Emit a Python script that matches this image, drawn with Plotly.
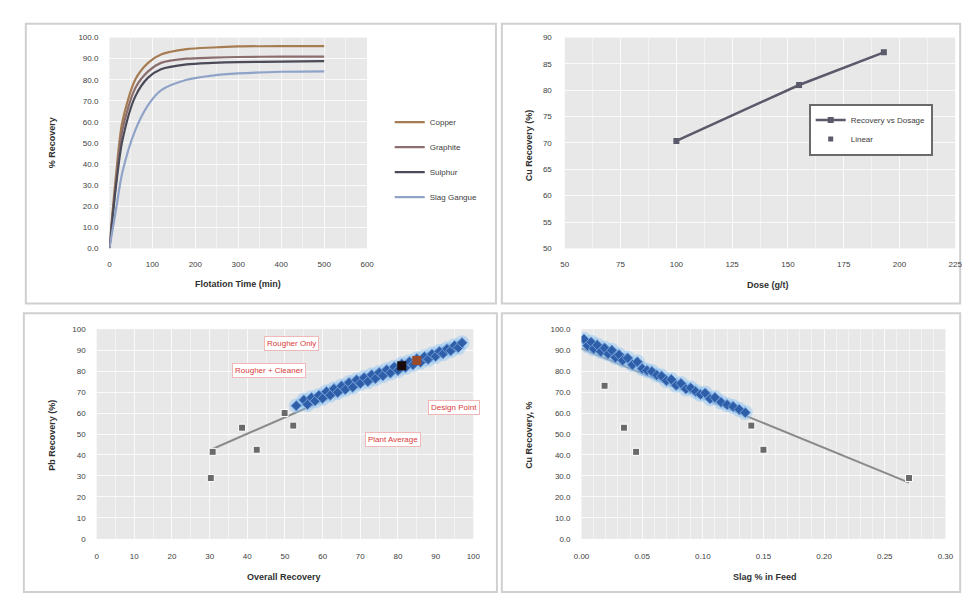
import numpy as np
import plotly.graph_objects as go

# ---------------- Panel 1 : recovery vs flotation time ----------------
time_min = [0, 15, 30, 60, 90, 120, 180, 240, 300, 400, 500]
rec_copper = [0, 34, 60, 80, 88, 92, 94.5, 95.3, 95.8, 96, 96]
rec_graphite = [0, 31, 56, 76, 84, 88, 90, 90.5, 90.8, 91, 91]
rec_sulphur = [0, 29, 51, 72, 81, 85, 87.3, 88, 88.4, 88.6, 88.8]
rec_slag = [0, 18, 36, 56, 68, 75, 80, 82, 83, 83.8, 84]
p1_names = ["Copper", "Graphite", "Sulphur", "Slag Gangue"]

# ---------------- Panel 2 : recovery vs dose ----------------
dose = [100, 155, 193]
dose_rec = [70.4, 81.0, 87.2]

# ---------------- Panel 3 : recovery vs overall recovery ----------------
ov_low_x = [30.8, 30.3, 38.6, 42.5, 49.9, 52.2]
ov_low_y = [41.5, 29.0, 53.0, 42.5, 60.0, 54.0]
ov_x = [53, 55, 56, 57, 58, 59, 60, 61, 62, 63, 64, 65, 66, 67, 68, 69, 70, 71,
        72, 73, 74, 75, 76, 77, 78, 79, 80, 81, 82, 83, 84, 85, 86, 87, 88, 89,
        90, 91, 92, 93, 94, 95, 96, 97]
ov_y = [63.5, 66.2, 64.1, 67.3, 65.8, 68.4, 67.0, 70.2, 68.5, 71.6, 69.8, 72.9,
        71.2, 74.5, 72.3, 75.8, 74.1, 76.9, 75.0, 78.2, 76.4, 79.3, 77.8, 80.6,
        79.1, 82.0, 80.3, 83.4, 81.7, 84.5, 83.0, 85.9, 84.2, 86.8, 85.6, 88.1,
        87.0, 89.4, 88.3, 90.6, 89.7, 92.1, 91.2, 93.5]
ov_sel_x = [81, 85]
ov_sel_y = [82.5, 85.0]
ov_sel_col = ["#1a0a0a", "#9a4a2a"]
p3_notes = ["Rougher Only", "Rougher + Cleaner", "Design Point", "Plant Average"]
p3_note_x = [51.7, 45.7, 94.8, 78.6]
p3_note_y = [93.0, 80.2, 62.7, 47.2]

# ---------------- Panel 4 : recovery vs slag % ----------------
slag_low_x = [0.019, 0.035, 0.045, 0.140, 0.150, 0.270]
slag_low_y = [73.0, 53.0, 41.5, 54.0, 42.5, 29.0]
slag_x = [0.002, 0.005, 0.008, 0.010, 0.013, 0.016, 0.019, 0.022, 0.025, 0.028,
          0.031, 0.034, 0.038, 0.042, 0.046, 0.050, 0.054, 0.058, 0.062, 0.066,
          0.070, 0.074, 0.078, 0.082, 0.086, 0.090, 0.094, 0.098, 0.102, 0.106,
          0.110, 0.115, 0.120, 0.125, 0.130, 0.135]
slag_y = [95.2, 92.1, 93.8, 90.6, 92.4, 89.3, 91.0, 88.2, 89.9, 86.5, 87.8, 85.1,
          86.2, 83.0, 84.4, 81.2, 80.3, 79.8, 78.1, 77.6, 75.4, 76.0, 73.2, 74.1,
          71.5, 72.0, 70.3, 68.9, 69.5, 66.8, 67.4, 65.2, 64.0, 63.1, 61.7, 60.2]

W, H = 970, 594
def px(x): return x / W
def py(y): return 1 - y / H

fig = go.Figure()
FONT = "Liberation Sans, Arial, sans-serif"
tick_font = dict(family=FONT, size=8, color="#404040")

# Panel 1 traces
p1_series = [rec_copper, rec_graphite, rec_sulphur, rec_slag]
p1_colors = ["#a67c52", "#8c6e6e", "#4a4a58", "#8fa3c8"]
for name, ys, c in zip(p1_names, p1_series, p1_colors):
    fig.add_trace(go.Scatter(x=time_min, y=ys, mode="lines", name=name,
                             line=dict(color=c, width=2.2, shape="spline", smoothing=0.8),
                             xaxis="x", yaxis="y", legend="legend", legendgroup=name))

# Panel 2
fig.add_trace(go.Scatter(x=dose, y=dose_rec, mode="lines+markers", name="Recovery vs Dosage",
                         line=dict(color="#5a5a6a", width=2.5),
                         marker=dict(symbol="square", size=6, color="#5a5a6a"),
                         xaxis="x2", yaxis="y2", legend="legend2"))
fig.add_trace(go.Scatter(x=[None], y=[None], mode="markers", name="Linear",
                         marker=dict(symbol="square", size=5, color="#5a5a6a"),
                         xaxis="x2", yaxis="y2", legend="legend2"))

# Panel 3
all3x = np.array(ov_low_x + ov_x + ov_sel_x)
all3y = np.array(ov_low_y + ov_y + ov_sel_y)
c3 = np.polyfit(all3x, all3y, 1)
t3 = np.array([all3x.min(), all3x.max()])
fig.add_trace(go.Scatter(x=t3, y=np.polyval(c3, t3), mode="lines", showlegend=False,
                         line=dict(color="#8a8a8a", width=2), xaxis="x3", yaxis="y3"))
fig.add_trace(go.Scatter(x=ov_x, y=ov_y, mode="markers", showlegend=False,
                         marker=dict(size=15, color="rgba(140,195,245,0.45)"),
                         xaxis="x3", yaxis="y3"))
fig.add_trace(go.Scatter(x=ov_x, y=ov_y, mode="markers", showlegend=False,
                         marker=dict(symbol="diamond", size=8, color="#2f5ea8",
                                     line=dict(color="#6f9ad6", width=1)),
                         xaxis="x3", yaxis="y3"))
fig.add_trace(go.Scatter(x=ov_low_x, y=ov_low_y, mode="markers", showlegend=False,
                         marker=dict(symbol="square", size=7, color="#6a6a6a",
                                     line=dict(color="#ffffff", width=1)),
                         xaxis="x3", yaxis="y3"))
fig.add_trace(go.Scatter(x=ov_sel_x, y=ov_sel_y, mode="markers", showlegend=False,
                         marker=dict(symbol="square", size=9, color=ov_sel_col),
                         xaxis="x3", yaxis="y3"))

# Panel 4
all4x = np.array(slag_low_x + slag_x)
all4y = np.array(slag_low_y + slag_y)
c4 = np.polyfit(all4x, all4y, 1)
t4 = np.array([0.0, all4x.max()])
fig.add_trace(go.Scatter(x=t4, y=np.polyval(c4, t4), mode="lines", showlegend=False,
                         line=dict(color="#8a8a8a", width=2), xaxis="x4", yaxis="y4"))
fig.add_trace(go.Scatter(x=slag_x, y=slag_y, mode="markers", showlegend=False,
                         marker=dict(size=15, color="rgba(140,195,245,0.45)"),
                         xaxis="x4", yaxis="y4"))
fig.add_trace(go.Scatter(x=slag_x, y=slag_y, mode="markers", showlegend=False,
                         marker=dict(symbol="diamond", size=8, color="#2f5ea8",
                                     line=dict(color="#6f9ad6", width=1)),
                         xaxis="x4", yaxis="y4"))
fig.add_trace(go.Scatter(x=slag_low_x, y=slag_low_y, mode="markers", showlegend=False,
                         marker=dict(symbol="square", size=7, color="#6a6a6a",
                                     line=dict(color="#ffffff", width=1)),
                         xaxis="x4", yaxis="y4"))

def ax(domain, rng, dtick, fmt=None, anchor=None, minor=None, standoff=8):
    d = dict(domain=domain, range=rng, dtick=dtick, tick0=rng[0], showgrid=True,
             gridcolor="#fafafa", gridwidth=1, zeroline=False, showline=False,
             ticks="", tickfont=tick_font, anchor=anchor, fixedrange=True,
             ticklabelstandoff=standoff)
    if fmt:
        d["tickformat"] = fmt
    if minor:
        d["minor"] = dict(dtick=minor, showgrid=True, gridcolor="#f3f3f3", gridwidth=1)
    return d

top_dom = [py(240), py(26)]
bot_dom = [py(535), py(322)]

fig.update_layout(
    width=W, height=H, margin=dict(l=0, r=0, t=0, b=0),
    paper_bgcolor="white", plot_bgcolor="#e8e8e8",
    font=dict(family=FONT, size=8, color="#404040"),
    xaxis=ax([px(95), px(357)], [0, 600], 100, anchor="y", minor=50, standoff=10),
    yaxis=ax(top_dom, [0, 100], 10, ".1f", anchor="x", standoff=10),
    xaxis2=ax([px(558), px(955)], [50, 225], 25, anchor="y2", minor=12.5, standoff=10),
    yaxis2=ax(top_dom, [50, 90], 5, anchor="x2", standoff=12),
    xaxis3=ax([px(82), px(465)], [0, 100], 10, anchor="y3", minor=5, standoff=11),
    yaxis3=ax(bot_dom, [0, 100], 10, anchor="x3", standoff=10),
    xaxis4=ax([px(575), px(945)], [0, 0.30], 0.05, ".2f", anchor="y4", minor=0.01, standoff=11),
    yaxis4=ax(bot_dom, [0, 100], 10, ".1f", anchor="x4", standoff=10),
    legend=dict(x=px(380), y=py(97), xanchor="left", yanchor="top",
                bgcolor="rgba(255,255,255,0)", borderwidth=0,
                font=dict(family=FONT, size=8, color="#404040"),
                tracegroupgap=6, itemwidth=30),
    legend2=dict(x=px(806), y=py(93), xanchor="left", yanchor="top",
                 bgcolor="white", bordercolor="#6a6a6a", borderwidth=2,
                 font=dict(family=FONT, size=8, color="#404040"), itemwidth=30),
)

# Outer chart boxes
boxes = [(10, 12, 488, 296), (494, 12, 960, 296), (8, 306, 489, 589), (494, 306, 960, 589)]
for x0, y0, x1, y1 in boxes:
    fig.add_shape(type="rect", xref="paper", yref="paper", x0=px(x0), x1=px(x1),
                  y0=py(y1), y1=py(y0), line=dict(color="#d0d0d0", width=2),
                  layer="below")

title_font = dict(family=FONT, size=9, color="#303030")
titles = [
    ("<b>Flotation Time (min)</b>", 226, 276, 0),
    ("<b>Dose (g/t)</b>", 765, 277, 0),
    ("<b>Overall Recovery</b>", 273, 574, 0),
    ("<b>Slag % in Feed</b>", 762, 574, 0),
    ("<b>% Recovery</b>", 37, 133, -90),
    ("<b>Cu Recovery (%)</b>", 522, 135, -90),
    ("<b>Pb Recovery (%)</b>", 37, 430, -90),
    ("<b>Cu Recovery, %</b>", 522, 430, -90),
]
for t, x, y, ang in titles:
    fig.add_annotation(text=t, xref="paper", yref="paper", x=px(x), y=py(y),
                       showarrow=False, textangle=ang, font=title_font,
                       xanchor="center", yanchor="middle")

for t, x, y in zip(p3_notes, p3_note_x, p3_note_y):
    fig.add_annotation(text=t, xref="x3", yref="y3", x=x, y=y, showarrow=False,
                       font=dict(family=FONT, size=8, color="#d83a3a"),
                       bgcolor="white", bordercolor="#f0b8b8", borderwidth=1, borderpad=2)

fig.write_html("out.html")
